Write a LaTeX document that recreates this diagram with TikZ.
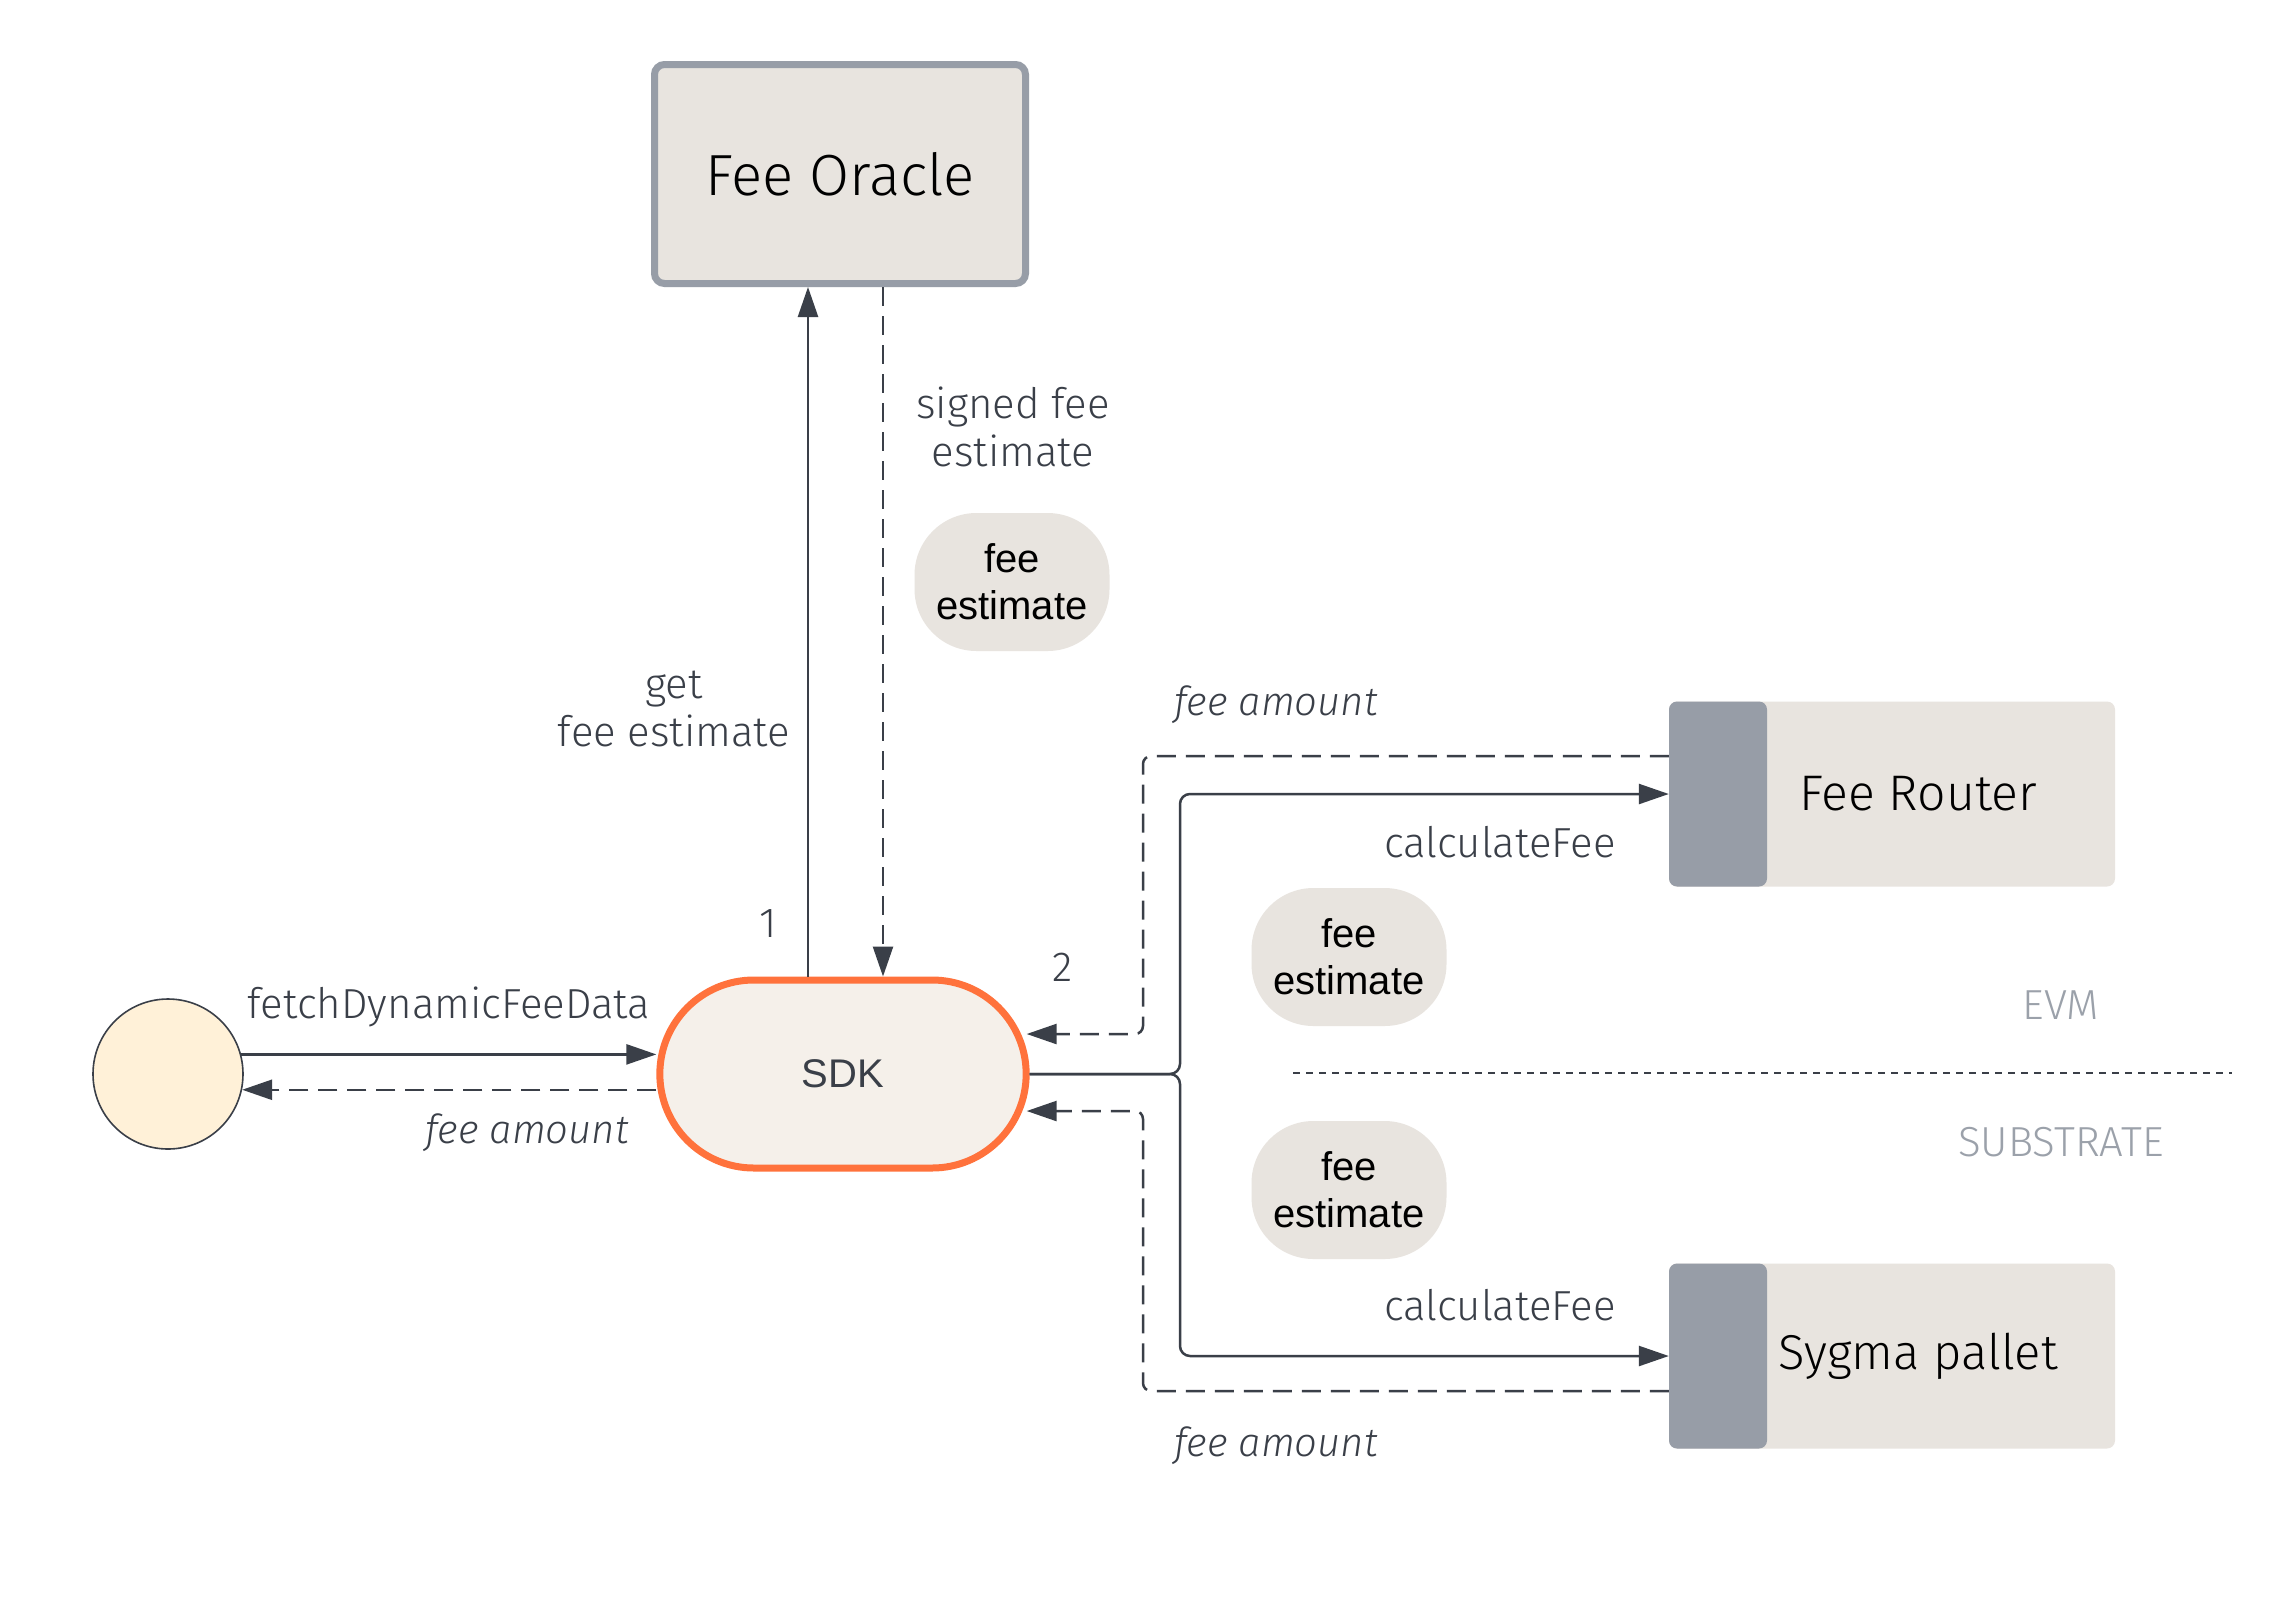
\documentclass[tikz,border=0pt]{standalone}
\usepackage{fontspec}
\setmainfont{Fira Sans}[UprightFont=* Light, ItalicFont=* Light Italic]
\newfontfamily\arialf{Liberation Sans}
\usetikzlibrary{arrows.meta,shapes.misc}
\definecolor{ink}{HTML}{3A3F48}
\definecolor{boxfill}{HTML}{E8E4DF}
\definecolor{stripc}{HTML}{979DA7}
\definecolor{sdkfill}{HTML}{F5F0EA}
\definecolor{sdkline}{HTML}{FF723C}
\definecolor{userfill}{HTML}{FFF1D8}
\definecolor{regiontxt}{HTML}{9BA1AA}
\tikzset{
  conn/.style={draw=ink, line width=2.5pt, -{Triangle[length=30pt,width=20pt]}},
  ret/.style={conn, dash pattern=on 19pt off 10pt},
  lbl/.style={text=ink, font=\fontsize{42}{48}\selectfont, align=center, inner sep=0pt},
  ilbl/.style={lbl, font=\fontsize{40}{48}\selectfont\itshape},
  pill/.style={fill=boxfill, rounded corners=62pt, minimum width=195pt, minimum height=138pt,
    font=\arialf\fontsize{40}{47}\selectfont, align=center, text=black, inner sep=0pt},
  service/.style={fill=boxfill, rounded corners=8pt, minimum width=446pt, minimum height=185pt,
    text=black, inner sep=0pt,
    path picture={\fill[stripc] (path picture bounding box.north west) rectangle
      ([xshift=98pt]path picture bounding box.south west);}},
  region/.style={text=regiontxt, font=\fontsize{42}{48}\selectfont, inner sep=0pt}
}
\begin{document}
\begin{tikzpicture}[x=1pt,y=-1pt]
\fill[white] (0,0) rectangle (2284,1618);
\useasboundingbox (0,0) rectangle (2284,1618);

% nodes
\node[draw=stripc, line width=7pt, fill=boxfill, rounded corners=10pt,
  minimum width=371pt, minimum height=219pt, font=\fontsize{58}{68}\selectfont, text=black]
  (oracle) at (840,174) {Fee Oracle};
\node[rounded rectangle, draw=sdkline, line width=7pt, fill=sdkfill,
  minimum width=373pt, minimum height=188pt, font=\arialf\fontsize{40}{48}\selectfont, text=ink]
  (sdk) at (843,1074) {SDK};
\node[circle, draw=ink, line width=1.6pt, fill=userfill, minimum size=150pt, inner sep=0pt]
  (user) at (168,1074) {};
\node[service, font=\fontsize{50}{60}\selectfont] (router) at (1892,794) {\hspace*{52pt}Fee Router};
\node[service, font=\fontsize{49}{60}\selectfont] (sygma) at (1892,1356) {\hspace*{52pt}Sygma pallet};

\node[pill] (p1) at (1012,582) {fee\\estimate};
\node[pill] (p2) at (1349,957) {fee\\estimate};
\node[pill] (p3) at (1349,1190) {fee\\estimate};

% labels
\node[lbl] (l1) at (449,1007) {fetchDynamicFeeData};
\node[ilbl] (l2) at (527,1133) {fee amount};
\node[lbl] (l3) at (674,709) {get\\fee estimate};
\node[lbl] (l4) at (768,924) {1};
\node[lbl] (l5) at (1013,427) {signed fee\\estimate};
\node[lbl] (l6) at (1063,967) {2};
\node[ilbl] (l7) at (1276,705) {fee amount};
\node[lbl] (l8) at (1500,842) {calculateFee};
\node[lbl] (l9) at (1500,1305) {calculateFee};
\node[ilbl] (l10) at (1276,1446) {fee amount};
\node[region] (evm) at (2061,1005) {EVM};
\node[region] (sub) at (2061,1142) {SUBSTRATE};

% separator
\draw[ink, line width=1.5pt, dash pattern=on 7pt off 6pt] (1293,1073) -- (2232,1073);

% connectors
\draw[conn] (user.15) -- (user.15 -| sdk.west);
\draw[ret] (sdk.west |- user.-12) -- (user.-12);
\path ([xshift=-35pt]sdk.north) coordinate (upA);
\draw[conn] (upA) -- (upA |- oracle.south);
\path ([xshift=43pt]oracle.south) coordinate (dnA);
\draw[ret] (dnA) -- (dnA |- sdk.north);

\coordinate (jn) at (1180,1074);
\draw[conn, rounded corners=10pt] (sdk.east) -- (jn) -- (jn |- router.west) -- (router.west);
\draw[conn, rounded corners=10pt] (sdk.east) -- (jn) -- (jn |- sygma.west) -- (sygma.west);

\path ([xshift=-3pt]sdk.east) coordinate (se);
\path ([yshift=38pt]router.west) coordinate (rr);
\draw[ret, rounded corners=8pt] (rr) -- (1143,756) -- (1143,1034) -- (se |- 0,1034);
\path ([yshift=-35pt]sygma.west) coordinate (sr);
\draw[ret, rounded corners=8pt] (sr) -- (1143,1391) -- (1143,1111) -- (se |- 0,1111);
\end{tikzpicture}
\end{document}
